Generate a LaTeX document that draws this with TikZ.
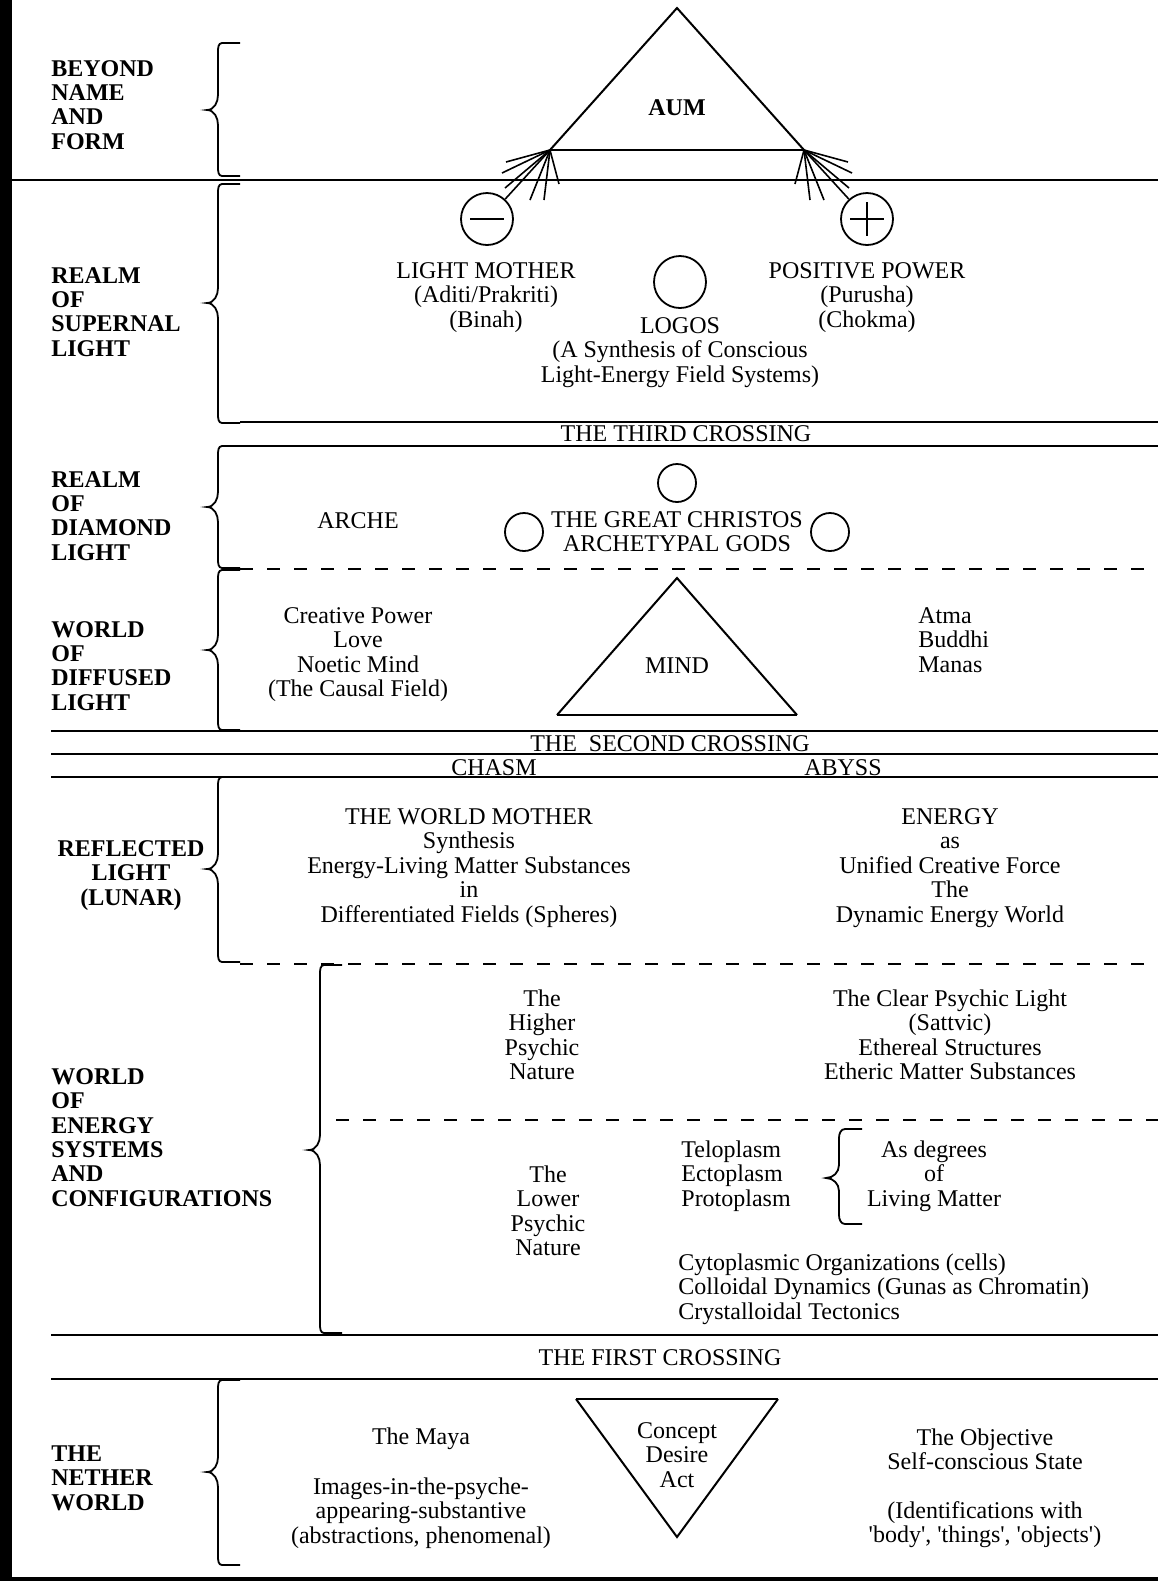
\documentclass[tikz,border=0pt]{standalone}
\usepackage{fontspec}
\setmainfont{Liberation Serif}
\newcommand{\curlyb}[4]{% #1 xtip, #2 ytop, #3 ytip, #4 ybot
  \draw[brc] (#1+33,#2) -- (#1+15,#2) to[out=180,in=90] (#1+11,#2+9) -- (#1+11,#3-15) to[out=270,in=0] (#1,#3) to[out=0,in=90] (#1+11,#3+15) -- (#1+11,#4-9) to[out=270,in=180] (#1+15,#4) -- (#1+33,#4);}
\newcommand{\sq}{\textquotesingle}
\begin{document}
\begin{tikzpicture}[x=0.5pt,y=-0.5pt,
  txt/.style={font=\fontsize{12}{12.25}\selectfont, inner sep=0pt, align=center, anchor=base},
  ltxt/.style={font=\fontsize{12}{12.25}\selectfont, inner sep=0pt, align=left, anchor=base west},
  lbl/.style={font=\fontsize{12}{12.15}\selectfont\bfseries, inner sep=0pt, align=left, anchor=base west},
  sep/.style={line width=1.3pt},
  dsep/.style={line width=1.1pt, dash pattern=on 6.5pt off 7pt},
  edge/.style={line width=1pt, line join=miter},
  fan/.style={line width=0.8pt},
  brc/.style={line width=0.9pt},
  ring/.style={circle, draw, line width=0.9pt, inner sep=0pt},
]
\useasboundingbox (0,0) rectangle (1158,1581);
% frame bars
\fill (0,0) rectangle (12,1581);
\fill (0,1577) rectangle (1158,1581);

% separator lines
\draw[sep] (12,180) -- (1158,180);
\draw[sep] (240,422) -- (1158,422);
\draw[sep] (240,446) -- (1158,446);
\draw[dsep] (240,569) -- (1158,569);
\draw[sep] (51,731) -- (1158,731);
\draw[sep] (51,754) -- (1158,754);
\draw[sep] (51,777) -- (1158,777);
\draw[dsep] (240,964) -- (1158,964);
\draw[dsep] (336,1120) -- (1158,1120);
\draw[sep] (51,1335) -- (1158,1335);
\draw[sep] (51,1379) -- (1158,1379);

% braces
\curlyb{207}{43}{110}{176}
\curlyb{207}{184}{303}{423}
\curlyb{207}{446}{507}{568}
\curlyb{207}{570}{650}{730}
\curlyb{207}{777}{869}{962}
\curlyb{309}{965}{1150}{1333}
\curlyb{207}{1380}{1472}{1565}
\draw[brc] (862,1129) -- (845,1129) to[out=180,in=90] (839,1138) -- (839,1165) to[out=270,in=0] (826,1178) to[out=0,in=90] (839,1191) -- (839,1215) to[out=270,in=180] (845,1224) -- (862,1224);

% section labels (y = baseline of last line)
\node[lbl] (beyond) at (51,149) {BEYOND\\NAME\\AND\\FORM};
\node[lbl] (supernal) at (51,356) {REALM\\OF\\SUPERNAL\\LIGHT};
\node[lbl] (diamond) at (51,560) {REALM\\OF\\DIAMOND\\LIGHT};
\node[lbl] (diffused) at (51,710) {WORLD\\OF\\DIFFUSED\\LIGHT};
\node[lbl, align=center, anchor=base] (reflected) at (131,905) {REFLECTED\\LIGHT\\(LUNAR)};
\node[lbl] (energysys) at (51,1206) {WORLD\\OF\\ENERGY\\SYSTEMS\\AND\\CONFIGURATIONS};
\node[lbl] (nether) at (51,1510) {THE\\NETHER\\WORLD};

% AUM triangle
\coordinate (A) at (677,8);
\coordinate (L) at (550,150);
\coordinate (R) at (804,150);
\draw[edge] (L) -- (A) -- (R);
\draw[line width=0.8pt] (L) -- (R);
\node[txt, font=\fontsize{12}{12.25}\selectfont\bfseries] (aum) at (677,115) {AUM};

% polarity circles
\node[ring, minimum size=26pt] (minus) at (487,219) {};
\node[ring, minimum size=26pt] (plus) at (867,219) {};
\draw[line width=0.9pt] (470,219) -- (504,219);
\draw[line width=0.9pt] (850,219) -- (884,219) (867,202) -- (867,236);

% fans
\foreach \p in {(506,162),(502,173),(505,188),(530,200),(544,200),(559,184)}
  \draw[fan] (L) -- \p;
\draw[fan] (L) -- (minus);
\foreach \p in {(848,162),(852,173),(849,188),(824,200),(810,200),(795,184)}
  \draw[fan] (R) -- \p;
\draw[fan] (R) -- (plus);

\node[txt] (mother) at (486,327) {LIGHT MOTHER\\(Aditi/Prakriti)\\(Binah)};
\node[txt] (positive) at (867,327) {POSITIVE POWER\\(Purusha)\\(Chokma)};
\node[ring, minimum size=26pt] (logosc) at (680,282) {};
\node[txt] (logos) at (680,382) {LOGOS\\(A Synthesis of Conscious\\Light-Energy Field Systems)};

\node[txt] (third) at (686,441) {THE THIRD CROSSING};

% diamond light
\node[txt] (arche) at (358,528) {ARCHE};
\node[ring, minimum size=19pt] (c1) at (677,483) {};
\node[ring, minimum size=19pt] (c2) at (524,532) {};
\node[ring, minimum size=19pt] (c3) at (830,532) {};
\node[txt] (christos) at (677,551.5) {THE GREAT CHRISTOS\\ARCHETYPAL GODS};

% diffused light
\node[txt] (creative) at (358,696.5) {Creative Power\\Love\\Noetic Mind\\(The Causal Field)};
\coordinate (MA) at (677,578);
\coordinate (ML) at (557,715);
\coordinate (MR) at (797,715);
\draw[edge] (ML) -- (MA) -- (MR);
\draw[line width=1.3pt] (ML) -- (MR);
\node[txt] (mind) at (677,673) {MIND};
\node[ltxt] (atma) at (918,672) {Atma\\Buddhi\\Manas};

\node[txt] (second) at (670,751) {THE\ \ SECOND CROSSING};
\node[txt] (chasm) at (494,775) {CHASM};
\node[txt] (abyss) at (843,775) {ABYSS};

% reflected light
\node[txt] (worldmother) at (469,922) {THE WORLD MOTHER\\Synthesis\\Energy-Living Matter Substances\\in\\Differentiated Fields (Spheres)};
\node[txt] (energy) at (950,922) {ENERGY\\as\\Unified Creative Force\\The\\Dynamic Energy World};

% energy systems
\node[txt] (higher) at (542,1079.5) {The\\Higher\\Psychic\\Nature};
\node[txt] (clear) at (950,1079.5) {The Clear Psychic Light\\(Sattvic)\\Ethereal Structures\\Etheric Matter Substances};
\node[txt] (lower) at (548,1255.5) {The\\Lower\\Psychic\\Nature};
\node[ltxt] (plasm) at (681,1206) {Teloplasm\\Ectoplasm\\Protoplasm};
\node[txt] (degrees) at (934,1206) {As degrees\\of\\Living Matter};
\node[ltxt] (cyto) at (678,1319) {Cytoplasmic Organizations (cells)\\Colloidal Dynamics (Gunas as Chromatin)\\Crystalloidal Tectonics};

\node[txt] (first) at (660,1365) {THE FIRST CROSSING};

% nether world
\node[txt] (maya) at (421,1444) {The Maya};
\node[txt] (images) at (421,1543) {Images-in-the-psyche-\\appearing-substantive\\(abstractions, phenomenal)};
\coordinate (CL) at (576,1399);
\coordinate (CR) at (778,1399);
\coordinate (CB) at (677,1537);
\draw[edge] (CL) -- (CB) -- (CR);
\draw[line width=1.3pt] (CL) -- (CR);
\node[txt] (concept) at (677,1487) {Concept\\Desire\\Act};
\node[txt] (objective) at (985,1469.5) {The Objective\\Self-conscious State};
\node[txt] (ident) at (985,1542.5) {(Identifications with\\\sq body\sq, \sq things\sq, \sq objects\sq)};
\end{tikzpicture}
\end{document}
